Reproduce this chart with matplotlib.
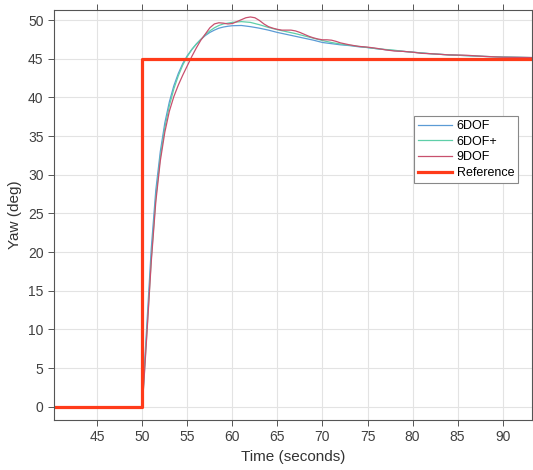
import matplotlib
matplotlib.use('Agg')
import matplotlib.pyplot as plt

plt.rcParams['font.family'] = ['Liberation Sans', 'DejaVu Sans']

# reference step
t_ref = [40.2, 50.0, 50.0, 93.25]
y_ref = [0, 0, 45, 45]

# 6DOF
t_6dof = [40.2, 50, 50.25, 50.5, 50.75, 51, 51.5, 52, 52.5, 53, 53.5, 54, 54.5, 55, 55.5, 56, 56.5,
          57, 57.5, 58, 58.5, 59, 59.5, 60, 61, 62, 63, 64, 65, 66, 67, 68, 69, 70, 71, 72, 73, 74,
          75, 76, 77, 78, 79, 80, 82, 84, 86, 88, 90, 93.25]
y_6dof = [0, 0, 5.5, 10.5, 15.5, 20.5, 28.0, 33.0, 36.7, 39.4, 41.5, 43.1, 44.4, 45.4, 46.2, 46.9, 47.5,
          48.0, 48.4, 48.7, 48.95, 49.1, 49.2, 49.27, 49.3, 49.15, 48.95, 48.7, 48.4, 48.15, 47.9, 47.65,
          47.4, 47.1, 46.95, 46.8, 46.7, 46.55, 46.45, 46.3, 46.17, 46.05, 45.95, 45.85, 45.65, 45.5,
          45.4, 45.3, 45.22, 45.15]

# 6DOF+
t_6dofp = t_6dof
y_6dofp = [0, 0, 4.8, 9.5, 14.3, 19.2, 27.0, 32.3, 36.1, 38.9, 41.1, 42.8, 44.2, 45.3, 46.2, 46.9, 47.5,
           48.1, 48.6, 49.0, 49.3, 49.5, 49.6, 49.7, 49.8, 49.7, 49.4, 49.05, 48.75, 48.5, 48.25, 47.95,
           47.65, 47.35, 47.1, 46.9, 46.75, 46.6, 46.45, 46.3, 46.2, 46.1, 45.95, 45.85, 45.65, 45.5,
           45.4, 45.3, 45.22, 45.15]

# 9DOF
t_9dof = [40.2, 50, 50.25, 50.5, 50.75, 51, 51.5, 52, 52.5, 53, 53.5, 54, 54.5, 55, 55.5, 56, 56.5,
          57, 57.5, 58, 58.5, 59, 59.5, 60, 60.5, 61, 61.5, 62, 62.5, 63, 63.5, 64, 64.5, 65, 65.5,
          66, 66.5, 67, 67.5, 68, 68.5, 69, 69.5, 70, 70.5, 71, 71.5, 72, 73, 74, 75, 76, 77, 78,
          79, 80, 81, 82, 84, 86, 88, 90, 93.25]
y_9dof = [0, 0, 4.5, 9.2, 14.0, 18.8, 26.5, 31.8, 35.5, 38.2, 40.1, 41.6, 42.9, 44.1, 45.3, 46.4, 47.4,
          48.2, 49.0, 49.5, 49.65, 49.6, 49.5, 49.55, 49.8, 50.05, 50.3, 50.4, 50.3, 49.95, 49.5, 49.15,
          48.95, 48.8, 48.7, 48.7, 48.7, 48.6, 48.4, 48.15, 47.9, 47.7, 47.55, 47.45, 47.45, 47.4,
          47.25, 47.05, 46.8, 46.6, 46.5, 46.35, 46.15, 46.0, 45.95, 45.85, 45.7, 45.65, 45.5, 45.45,
          45.3, 45.2, 45.15]

fig = plt.figure(figsize=(5.33, 4.70), dpi=100)
ax = fig.add_axes([0.1013, 0.1064, 0.8967, 0.8723])

ax.plot(t_6dof, y_6dof, color='#5b9bd5', lw=0.9, label='6DOF')
ax.plot(t_6dofp, y_6dofp, color='#5fcfa8', lw=0.9, label='6DOF+')
ax.plot(t_9dof, y_9dof, color='#c8506e', lw=0.9, label='9DOF')
ax.plot(t_ref, y_ref, color='#ff3b1a', lw=2.3, label='Reference')

ax.set_xlim(40.2, 93.25)
ax.set_ylim(-1.7, 51.3)
ax.set_xticks(range(45, 95, 5))
ax.set_yticks(range(0, 55, 5))
ax.grid(True, color='#e3e3e3', lw=0.8)
ax.set_axisbelow(True)
for s in ax.spines.values():
    s.set_color('#555555')
    s.set_linewidth(0.8)
ax.tick_params(direction='out', top=True, right=True, length=4, width=0.7,
               color='#555555', labelcolor='#404040', labelsize=10)

ax.set_xlabel('Time (seconds)', fontsize=11, color='#333333')
ax.set_ylabel('Yaw (deg)', fontsize=11, color='#333333')

leg = ax.legend(loc='upper right', bbox_to_anchor=(0.971, 0.741), fontsize=9,
                fancybox=False, framealpha=1, edgecolor='#888888', handlelength=2.7,
                borderpad=0.3, labelspacing=0.3, handletextpad=0.4, borderaxespad=0)
leg.get_frame().set_linewidth(0.8)

fig.savefig('out.png', dpi=100)
